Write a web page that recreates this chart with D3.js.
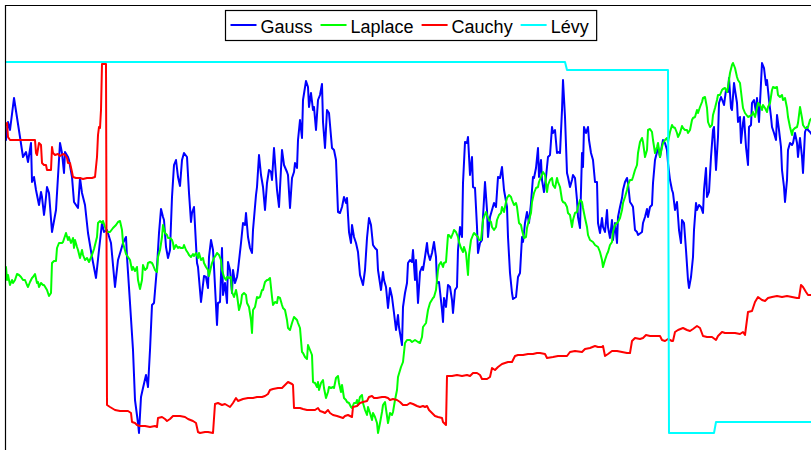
<!DOCTYPE html>
<html>
<head>
<meta charset="utf-8">
<style>
  body { margin: 0; background: #fff; }
  svg { display: block; }
  .legend text { font-family: 'Liberation Sans', Arial, sans-serif; font-size: 18px; fill: #000; }
  .series { fill: none; stroke-width: 2px; stroke-linejoin: round; stroke-linecap: round; }
</style>
</head>
<body>
<svg id="chart" width="811" height="450"></svg>
<script src="https://cdn.jsdelivr.net/npm/d3@7"></script>
<script>
// series names and colours, in drawing order
const names = ["Gauss", "Laplace", "Cauchy", "Lévy"];
const colors = ["#0000ff", "#00ff00", "#ff0000", "#00ffff"];

// [sample index, value]
const gauss = [[0,31.0],[2,32.8],[4,32.0],[8,35.2],[14,31.3],[17,29.3],[20,29.8],[22,28.8],[25,30.7],[26,26.8],[28,27.3],[30,26.0],[33,24.5],[35,25.8],[36,25.3],[38,23.5],[39,24.3],[41,26.3],[43,25.7],[46,21.8],[50,24.0],[54,30.7],[56,29.7],[58,27.7],[59,29.8],[62,29.3],[63,29.0],[66,27.3],[68,24.8],[72,24.2],[74,27.2],[76,25.7],[79,24.5],[82,21.7],[86,19.3],[90,17.2],[93,20.0],[96,22.7],[98,21.8],[101,22.0],[105,20.7],[109,16.3],[112,19.0],[115,20.0],[117,20.7],[120,21.3],[121,19.3],[124,14.7],[127,10.0],[129,5.0],[132,2.7],[133,1.7],[135,5.3],[137,6.2],[140,7.5],[142,6.3],[144,10.0],[146,14.5],[148,14.7],[151,18.3],[153,21.7],[155,24.1],[157,23.3],[158,23.0],[160,20.3],[162,19.2],[164,20.0],[166,25.3],[168,28.5],[170,29.0],[172,27.3],[174,26.4],[176,29.0],[178,29.7],[181,29.3],[183,25.7],[185,22.8],[186,23.7],[188,24.3],[191,18.7],[192,18.3],[195,14.8],[198,17.4],[200,17.3],[202,16.2],[203,19.3],[205,21.0],[207,20.0],[208,18.3],[211,12.5],[212,14.7],[214,14.8],[216,20.2],[217,15.5],[219,16.7],[221,14.7],[222,18.8],[224,18.0],[226,15.7],[227,18.0],[229,16.7],[231,17.3],[232,18.0],[235,20.7],[237,22.7],[239,22.5],[240,23.7],[242,21.3],[244,20.2],[246,19.7],[247,22.0],[250,25.5],[251,26.3],[253,29.5],[255,27.5],[257,26.3],[259,24.0],[261,26.7],[263,28.0],[265,27.8],[266,27.0],[268,30.2],[271,26.0],[273,24.3],[276,30.0],[278,28.5],[281,27.8],[282,27.5],[284,24.2],[286,27.2],[288,27.8],[289,28.7],[291,28.2],[292,31.0],[294,33.0],[296,31.2],[297,35.0],[300,36.9],[302,36.3],[303,34.3],[305,35.7],[307,34.0],[308,34.3],[310,32.0],[312,35.0],[314,35.5],[316,36.6],[317,32.8],[319,30.2],[321,34.0],[323,33.7],[326,30.2],[328,30.0],[330,29.0],[332,23.8],[334,23.7],[336,24.3],[338,25.3],[340,24.7],[341,25.2],[343,21.8],[345,20.7],[346,22.5],[348,21.3],[350,20.7],[352,19.8],[354,17.5],[357,16.5],[359,18.0],[361,21.2],[363,23.2],[365,22.5],[367,20.5],[369,20.2],[371,20.0],[372,18.0],[375,16.0],[377,17.8],[378,17.0],[380,16.3],[382,14.2],[384,16.2],[386,15.3],[388,13.7],[390,12.0],[392,13.5],[393,12.3],[396,10.5],[397,14.3],[399,15.7],[401,16.7],[402,18.7],[404,19.0],[406,18.8],[407,20.0],[409,17.0],[410,19.0],[412,14.7],[414,17.8],[416,18.3],[417,18.0],[419,19.3],[421,20.7],[422,19.7],[424,19.0],[426,19.7],[428,20.8],[430,19.3],[431,16.7],[433,16.8],[436,14.0],[437,12.8],[438,15.2],[440,14.3],[442,16.5],[444,16.3],[446,15.0],[447,13.7],[449,16.0],[451,16.3],[452,20.0],[454,22.3],[456,21.3],[457,26.7],[459,30.8],[461,30.7],[462,31.3],[464,27.5],[466,29.3],[467,26.3],[469,26.2],[471,22.3],[472,19.7],[474,20.7],[476,21.0],[477,23.3],[479,26.8],[481,24.0],[482,21.3],[484,23.3],[486,24.0],[488,24.7],[490,24.3],[492,27.3],[494,27.2],[496,28.3],[498,26.0],[501,24.3],[502,21.3],[504,17.7],[506,15.7],[507,15.1],[510,15.3],[512,17.3],[514,17.7],[516,21.3],[517,20.8],[519,22.7],[521,23.8],[523,22.7],[525,24.7],[527,27.3],[528,27.2],[530,28.2],[532,30.2],[533,27.3],[535,29.0],[536,27.0],[538,25.8],[540,27.3],[542,29.3],[544,29.5],[546,32.3],[547,31.7],[549,32.0],[551,29.7],[552,29.8],[554,29.7],[556,34.0],[557,37.0],[559,33.3],[561,27.7],[562,27.3],[564,26.3],[566,27.0],[567,27.5],[569,27.2],[571,25.0],[572,23.3],[574,22.2],[576,29.7],[577,28.3],[578,32.3],[580,31.7],[582,32.3],[583,31.0],[585,29.7],[587,29.0],[589,26.8],[591,26.8],[592,22.7],[594,21.7],[596,23.2],[597,22.3],[599,21.8],[601,24.0],[602,22.3],[604,21.2],[606,23.0],[607,21.0],[609,22.7],[611,20.7],[612,23.3],[614,24.3],[616,25.2],[617,26.0],[619,26.8],[621,27.2],[622,26.7],[624,24.8],[626,24.5],[627,24.3],[629,22.0],[631,21.8],[632,21.5],[636,21.8],[637,22.7],[639,23.3],[641,24.1],[642,23.3],[644,24.3],[646,24.5],[647,26.7],[649,29.0],[651,29.8],[652,30.3],[654,29.3],[656,30.5],[657,31.0],[659,30.7],[661,30.0],[662,28.7],[664,27.0],[666,26.0],[667,25.7],[669,24.0],[671,24.8],[673,22.0],[675,20.7],[676,23.0],[678,22.7],[680,20.0],[682,17.0],[683,16.2],[685,17.3],[687,19.3],[688,22.0],[690,24.7],[691,24.0],[693,24.5],[695,24.3],[697,23.7],[698,26.0],[700,28.2],[701,25.3],[703,25.8],[705,29.3],[707,32.0],[708,32.3],[710,28.0],[712,31.3],[713,34.7],[715,35.3],[717,34.8],[718,34.5],[720,36.0],[722,35.8],[723,37.2],[725,34.2],[726,34.0],[728,36.7],[729,36.0],[731,34.7],[732,32.8],[734,33.3],[735,30.7],[737,32.7],[738,33.3],[740,30.3],[742,28.5],[743,32.3],[745,32.5],[746,34.7],[748,35.0],[750,33.8],[751,35.2],[753,32.8],[755,36.7],[756,38.7],[758,38.2],[760,36.5],[761,37.0],[763,35.0],[765,33.3],[766,32.3],[768,31.7],[770,31.0],[771,33.5],[773,32.0],[775,30.3],[776,28.0],[778,26.3],[779,24.8],[781,27.0],[782,30.0],[784,30.7],[786,30.5],[787,30.7],[789,31.7],[791,30.7],[792,29.3],[794,31.2],[796,29.3],[797,27.7],[799,31.8],[801,32.3],[802,32.0],[804,31.8],[806,31.5]];

const laplace = [[0,18.3],[1,17.0],[2,17.5],[4,16.5],[6,17.0],[7,16.7],[9,17.0],[11,17.6],[13,17.5],[15,17.3],[17,17.0],[19,17.0],[21,16.5],[22,16.3],[24,16.8],[26,17.2],[27,17.3],[29,17.6],[31,16.7],[32,16.8],[33,16.3],[35,16.7],[37,16.5],[38,16.5],[41,16.0],[43,15.4],[45,15.7],[46,18.7],[48,18.9],[50,18.9],[51,20.2],[53,20.7],[56,20.7],[57,20.8],[60,21.7],[62,21.0],[63,21.3],[65,20.7],[67,21.2],[68,20.2],[69,21.0],[71,20.3],[72,20.0],[74,19.2],[76,20.0],[77,19.5],[79,19.0],[81,19.2],[83,18.8],[86,19.5],[88,20.1],[91,21.3],[92,22.7],[94,22.9],[96,22.7],[97,22.9],[99,22.3],[101,21.8],[104,21.8],[107,22.2],[110,22.5],[112,22.8],[114,22.9],[116,22.0],[117,20.7],[120,19.6],[122,19.3],[124,19.0],[126,18.0],[127,18.3],[129,17.9],[131,18.3],[132,17.0],[134,16.1],[136,17.0],[137,18.5],[139,18.0],[141,18.2],[142,18.7],[144,18.8],[146,18.7],[147,18.5],[149,18.0],[151,17.8],[152,19.3],[154,20.0],[156,21.3],[157,22.5],[159,21.7],[161,21.5],[162,21.2],[164,21.2],[166,21.0],[167,20.7],[168,20.1],[170,20.5],[172,20.2],[173,20.3],[175,20.2],[177,20.2],[178,20.5],[180,20.0],[182,19.7],[183,19.5],[185,19.3],[187,19.6],[188,19.4],[190,19.7],[192,19.2],[193,19.7],[195,19.0],[197,19.2],[198,18.7],[200,18.3],[202,18.0],[203,17.4],[205,18.3],[206,18.7],[208,19.2],[210,19.5],[211,19.7],[213,19.5],[215,19.0],[216,18.0],[218,17.3],[220,17.0],[221,17.3],[223,17.2],[225,17.3],[226,15.8],[228,15.3],[230,16.0],[231,15.5],[233,14.0],[235,14.7],[236,15.5],[238,15.7],[240,15.5],[241,14.7],[243,14.3],[245,13.0],[246,11.7],[247,14.0],[249,14.3],[251,15.3],[252,15.2],[254,15.3],[256,16.0],[257,16.0],[259,16.8],[261,17.0],[262,17.0],[264,17.2],[266,15.3],[267,14.5],[269,14.8],[271,14.7],[272,15.3],[274,15.2],[276,14.5],[277,14.2],[279,14.0],[281,13.0],[282,12.2],[284,12.0],[286,12.7],[288,13.3],[291,13.0],[292,12.7],[294,12.2],[296,9.8],[297,9.7],[299,9.3],[301,9.1],[302,10.5],[304,10.0],[306,9.5],[307,6.8],[309,6.7],[311,6.3],[312,6.8],[313,6.0],[315,6.7],[317,7.0],[318,6.2],[320,5.2],[322,5.8],[323,6.3],[325,6.2],[327,6.3],[328,6.2],[330,7.2],[332,7.4],[333,6.7],[335,5.8],[336,6.5],[338,5.2],[340,5.0],[341,4.8],[343,4.7],[345,4.3],[346,4.2],[348,4.7],[350,4.7],[351,5.0],[352,4.5],[354,5.3],[356,5.5],[357,4.7],[359,4.0],[361,3.5],[362,4.3],[364,3.7],[366,3.0],[367,3.7],[369,3.3],[371,2.7],[372,1.7],[374,2.7],[376,3.8],[377,4.5],[379,4.8],[382,2.7],[384,3.7],[386,3.5],[387,3.8],[389,5.0],[391,6.0],[392,7.3],[395,8.3],[397,8.8],[399,10.7],[401,11.0],[404,11.0],[406,10.8],[409,11.0],[412,10.8],[414,10.7],[416,11.3],[417,12.3],[420,12.7],[422,14.0],[424,14.7],[427,15.2],[428,15.3],[430,16.0],[432,18.0],[433,18.5],[435,18.8],[437,18.3],[438,18.7],[440,18.8],[442,21.5],[443,21.5],[445,21.2],[447,21.7],[448,22.0],[450,21.8],[452,21.3],[453,20.8],[455,20.2],[457,19.8],[458,20.3],[460,19.7],[462,17.5],[463,19.5],[465,21.0],[467,21.5],[468,21.7],[470,21.5],[472,21.3],[473,21.0],[475,21.0],[477,23.0],[478,23.3],[480,23.8],[481,23.5],[483,23.0],[485,22.8],[486,22.3],[488,22.0],[490,22.3],[491,23.0],[493,23.5],[495,23.7],[496,24.3],[498,23.8],[500,24.8],[501,25.2],[503,25.5],[505,25.3],[506,25.0],[508,24.5],[510,24.7],[511,24.3],[513,22.7],[515,22.5],[516,22.0],[518,21.2],[520,21.3],[521,22.2],[523,23.0],[525,23.7],[526,24.8],[528,25.7],[530,26.2],[532,26.3],[533,26.8],[535,27.3],[537,27.8],[539,27.5],[541,25.8],[542,26.5],[544,27.0],[546,27.2],[547,26.5],[549,26.2],[551,27.2],[552,26.8],[554,26.3],[556,25.0],[557,24.8],[559,24.7],[561,24.3],[562,23.7],[564,23.5],[566,22.3],[567,23.0],[569,23.7],[571,23.8],[572,24.3],[574,25.0],[576,24.8],[577,24.2],[579,23.2],[581,22.3],[582,21.5],[584,21.0],[587,20.8],[589,20.5],[592,20.3],[594,19.8],[596,19.0],[597,18.3],[599,19.0],[601,19.6],[602,19.8],[604,20.5],[606,20.8],[607,21.8],[609,22.5],[611,22.7],[612,22.8],[614,23.2],[616,24.0],[617,24.7],[619,25.3],[621,26.0],[622,26.5],[624,27.0],[626,27.0],[627,27.3],[629,28.0],[631,28.5],[632,29.7],[634,30.8],[636,31.2],[637,30.8],[639,29.3],[641,30.0],[642,32.0],[644,32.1],[646,31.8],[647,31.0],[649,29.7],[651,30.3],[652,30.7],[654,29.3],[656,30.3],[657,30.7],[659,31.0],[661,31.2],[662,30.8],[664,31.8],[666,32.5],[667,32.3],[669,32.2],[671,31.7],[672,31.3],[674,31.7],[676,32.4],[677,32.2],[679,32.0],[681,32.0],[682,31.7],[684,32.0],[686,33.0],[687,33.2],[689,33.3],[691,34.0],[692,33.7],[694,34.3],[696,34.8],[697,35.2],[699,35.3],[701,34.2],[702,32.8],[704,32.3],[706,32.5],[707,33.5],[709,34.2],[711,35.0],[712,35.5],[714,35.5],[716,36.0],[717,36.1],[719,36.2],[721,35.8],[722,36.3],[724,37.7],[726,38.5],[727,38.7],[729,38.2],[731,37.3],[732,37.0],[734,36.7],[736,35.0],[737,34.2],[739,33.7],[742,33.3],[746,33.5],[747,33.8],[749,33.3],[751,34.2],[752,34.7],[754,34.5],[756,34.0],[757,34.5],[759,34.2],[761,33.8],[762,34.3],[764,34.7],[766,36.0],[767,36.3],[769,36.2],[771,36.3],[772,35.5],[774,35.3],[776,35.5],[777,35.0],[779,35.2],[781,34.2],[782,33.3],[784,32.3],[786,31.5],[787,32.0],[789,32.2],[791,32.3],[792,32.7],[794,34.3],[796,33.2],[797,32.5],[799,32.2],[801,32.2],[802,32.3],[804,33.0],[806,33.2]];

const cauchy = [[0,32.5],[1,32.7],[2,31.3],[4,31.0],[29,31.0],[30,29.7],[31,29.5],[33,30.7],[35,30.5],[36,28.7],[38,28.5],[40,28.5],[41,28.0],[45,28.0],[46,30.3],[47,29.7],[49,29.5],[52,29.6],[54,29.4],[57,29.6],[59,29.5],[61,29.2],[62,28.7],[64,28.7],[66,27.8],[67,27.3],[70,27.2],[74,27.2],[77,27.1],[81,27.2],[86,27.2],[89,27.3],[91,29.3],[92,31.5],[93,32.3],[94,32.2],[95,34.0],[96,38.6],[100,38.6],[101,4.5],[104,4.3],[109,4.0],[114,3.9],[122,3.9],[125,3.7],[126,2.8],[129,2.7],[131,2.5],[134,2.4],[139,2.4],[144,2.3],[149,2.4],[151,2.3],[152,3.2],[156,3.3],[159,3.1],[161,2.9],[164,3.1],[167,3.4],[174,3.4],[179,3.3],[182,3.1],[187,2.9],[190,2.7],[192,1.8],[194,1.7],[199,1.8],[202,1.8],[207,1.7],[209,4.6],[212,4.7],[216,4.5],[219,4.6],[224,4.3],[227,4.7],[230,5.2],[232,4.9],[237,5.1],[242,5.2],[247,5.2],[251,5.3],[256,5.3],[259,5.4],[262,5.6],[264,6.0],[267,6.1],[272,6.2],[276,6.2],[279,6.5],[282,6.8],[286,6.6],[287,6.5],[288,4.2],[294,4.2],[297,4.1],[301,4.0],[304,4.0],[309,4.0],[312,4.2],[314,3.9],[317,3.8],[319,3.7],[322,4.0],[324,3.7],[327,3.5],[331,3.4],[334,3.3],[337,3.2],[339,3.4],[342,3.5],[346,3.3],[347,4.3],[351,4.4],[354,4.7],[357,4.8],[361,4.9],[363,5.3],[366,5.4],[368,5.2],[371,5.2],[376,5.3],[379,5.3],[382,5.2],[384,5.0],[387,5.1],[391,5.0],[394,4.8],[397,4.5],[401,4.5],[404,4.7],[407,4.6],[411,4.4],[414,4.3],[417,4.4],[419,4.3],[421,4.4],[423,4.0],[426,3.7],[429,3.4],[432,3.3],[436,3.2],[437,2.8],[440,2.5],[441,7.4],[446,7.4],[451,7.5],[456,7.4],[461,7.5],[464,7.4],[467,7.7],[471,7.7],[474,7.5],[476,7.1],[481,7.1],[484,7.3],[486,8.2],[489,8.0],[492,8.3],[496,8.6],[499,8.7],[502,8.8],[506,8.8],[509,9.4],[512,9.5],[517,9.5],[522,9.6],[527,9.6],[531,9.7],[534,9.7],[539,9.6],[541,9.2],[547,9.3],[552,9.4],[556,9.4],[561,9.4],[564,9.8],[569,9.9],[576,9.8],[579,10.1],[584,10.2],[589,10.4],[592,10.3],[596,10.3],[597,10.4],[599,9.4],[602,9.6],[606,9.9],[611,9.9],[616,9.8],[621,9.7],[624,9.7],[626,10.9],[629,11.2],[634,11.1],[637,11.2],[640,11.5],[644,11.4],[649,11.4],[654,11.4],[656,11.0],[659,10.9],[662,11.1],[666,10.9],[667,10.9],[669,11.8],[672,12.0],[677,12.2],[681,12.0],[684,11.9],[687,12.1],[691,12.4],[694,12.2],[697,11.4],[701,11.3],[706,11.3],[710,11.0],[712,11.4],[716,11.8],[719,11.7],[724,11.7],[729,11.7],[734,11.6],[737,11.8],[739,11.5],[742,13.8],[746,13.9],[747,14.2],[749,14.8],[752,15.3],[756,15.0],[759,14.9],[762,15.2],[766,15.3],[771,15.4],[776,15.3],[781,15.4],[786,15.3],[791,15.2],[793,15.2],[795,16.5],[797,16.3],[800,15.8],[802,15.5],[806,15.5]];

const levy = [[0,38.8],[559,38.8],[561,38.0],[662,38.0],[663,1.7],[708,1.7],[710,2.8],[806,2.8]];

const seriesData = [gauss, laplace, cauchy, levy];

const svg = d3.select("#chart");
const W = +svg.attr("width"), H = +svg.attr("height");
const marginLeft = 6, marginTop = 6;

svg.append("rect").attr("width", W).attr("height", H).attr("fill", "#fff");

const x = d3.scaleLinear().domain([0, 805]).range([marginLeft, W]);
const y = d3.scaleLinear().domain([0, 44.4]).range([H, marginTop]);

const line = d3.line()
    .x(function(d) { return x(d[0]); })
    .y(function(d) { return y(d[1]); });

svg.append("defs").append("clipPath")
    .attr("id", "clip")
  .append("rect")
    .attr("x", marginLeft - 0.5)
    .attr("y", marginTop - 0.5)
    .attr("width", W - marginLeft + 1)
    .attr("height", H - marginTop + 1);

const plot = svg.append("g").attr("clip-path", "url(#clip)");

seriesData.forEach(function(data, i) {
  plot.append("path")
      .datum(data)
      .attr("class", "series")
      .attr("stroke", colors[i])
      .attr("d", line);
});

// axes box (only top and left edges are inside the picture)
svg.append("path")
    .attr("d", "M" + (marginLeft - 0.5) + "," + H + "V" + (marginTop - 0.5) + "H" + W)
    .attr("fill", "none")
    .attr("stroke", "#000")
    .attr("stroke-width", 1.2);

// legend
const lg = svg.append("g").attr("class", "legend");
const box = lg.append("rect")
    .attr("fill", "#fff")
    .attr("stroke", "#000")
    .attr("stroke-width", 1.2);

const lgX = 225.5, lgY = 10.5, lgH = 30;
let cx = lgX + 5;
names.forEach(function(name, i) {
  lg.append("line")
      .attr("x1", cx).attr("x2", cx + 26)
      .attr("y1", lgY + 14.5).attr("y2", lgY + 14.5)
      .attr("stroke", colors[i])
      .attr("stroke-width", 2);
  const t = lg.append("text")
      .attr("x", cx + 30)
      .attr("y", lgY + 22)
      .text(name);
  cx += 30 + t.node().getComputedTextLength() + 8;
});
box.attr("x", lgX).attr("y", lgY)
   .attr("width", cx - lgX)
   .attr("height", lgH);
</script>
</body>
</html>
